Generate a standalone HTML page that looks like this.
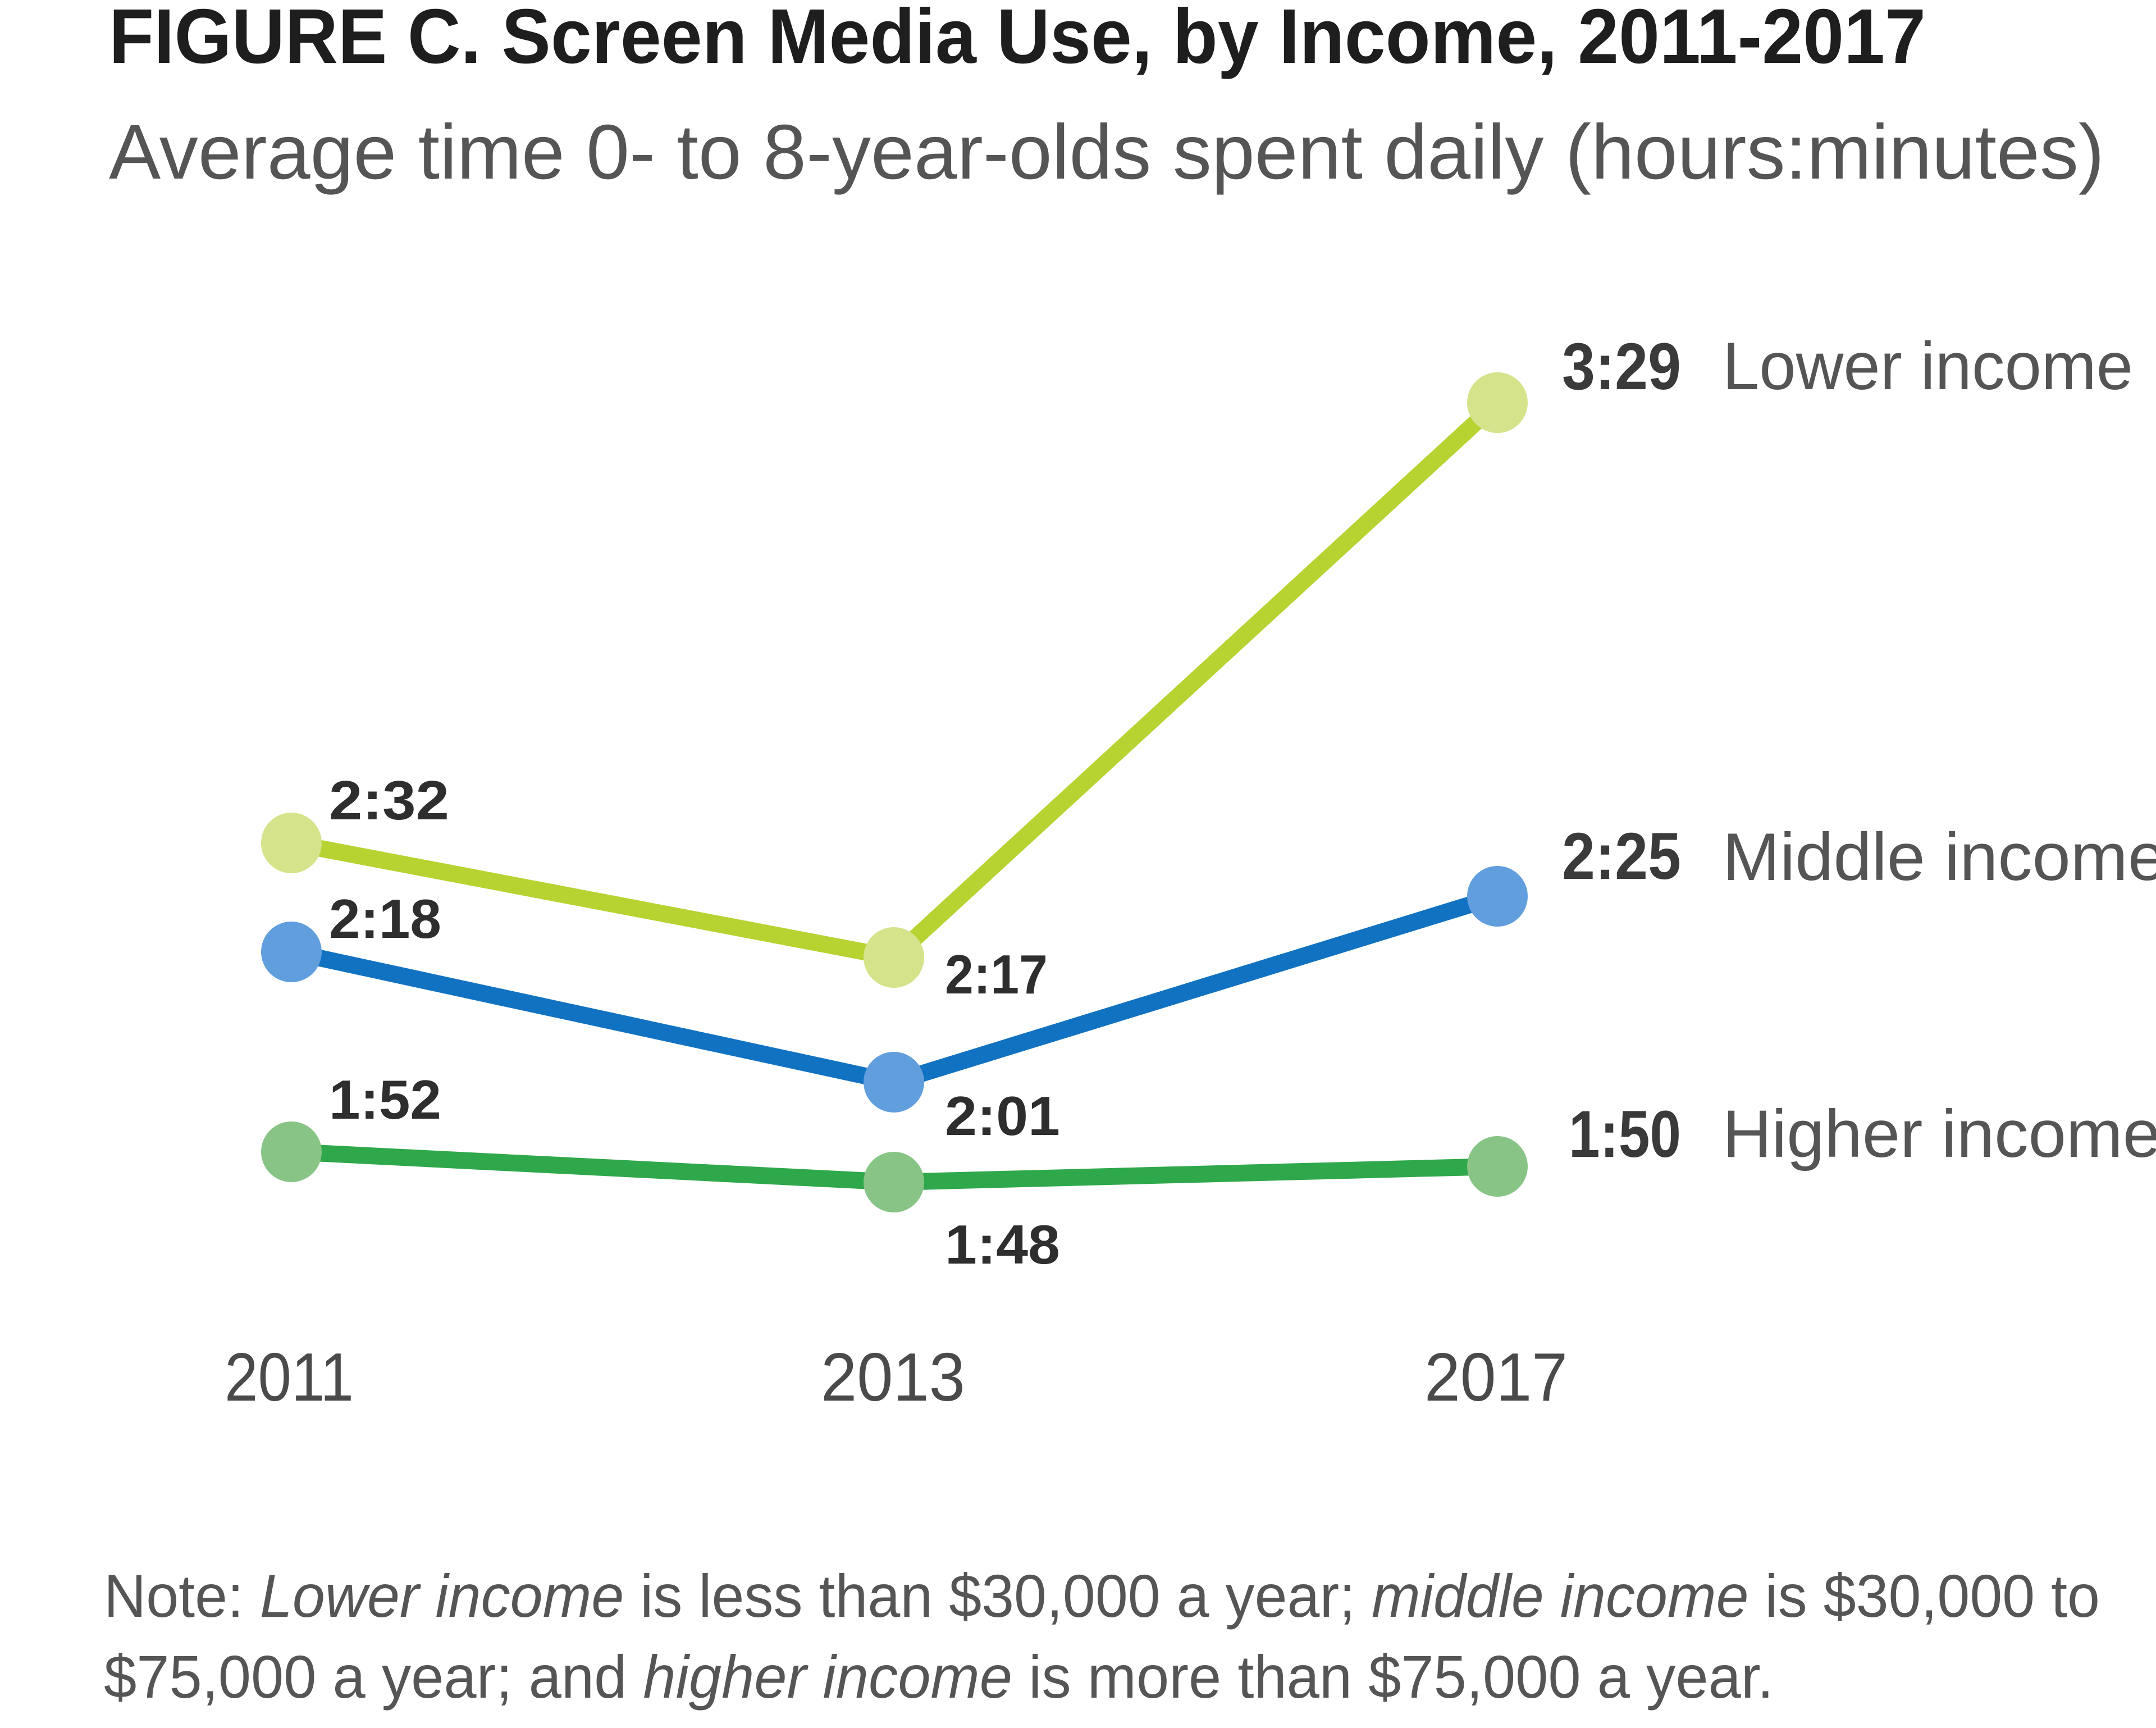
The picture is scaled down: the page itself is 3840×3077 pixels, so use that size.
<!DOCTYPE html>
<html>
<head>
<meta charset="utf-8">
<style>
html,body{margin:0;padding:0;background:#fff;}
body{width:3840px;height:3077px;overflow:hidden;}
svg{display:block;}
</style>
</head>
<body>
<svg width="3840" height="3077" viewBox="0 0 3840 3077" xmlns="http://www.w3.org/2000/svg">
<rect width="3840" height="3077" fill="#fff"/>
<!-- Title -->
<text x="194" y="112" font-family="Liberation Sans, sans-serif" font-weight="bold" font-size="138" fill="#1e1e1e" textLength="3236" lengthAdjust="spacingAndGlyphs">FIGURE C. Screen Media Use, by Income, 2011-2017</text>
<text x="194" y="318" font-family="Liberation Sans, sans-serif" font-size="138" fill="#555" textLength="3554" lengthAdjust="spacingAndGlyphs">Average time 0- to 8-year-olds spent daily (hours:minutes)</text>

<!-- Lines -->
<g fill="none" stroke-width="30" stroke-linejoin="round" stroke-linecap="round">
<polyline points="519,1501 1592,1705 2667,717" stroke="#b6d332"/>
<polyline points="519,1695 1592,1927 2667,1596" stroke="#1172c1"/>
<polyline points="519,2051 1592,2105 2667,2077" stroke="#2ea84a"/>
</g>
<!-- Markers -->
<g>
<circle cx="519" cy="1501" r="54" fill="#d5e48a"/>
<circle cx="1592" cy="1705" r="54" fill="#d5e48a"/>
<circle cx="2667" cy="717" r="54" fill="#d5e48a"/>
<circle cx="519" cy="1695" r="54" fill="#609ede"/>
<circle cx="1592" cy="1927" r="54" fill="#609ede"/>
<circle cx="2667" cy="1596" r="54" fill="#609ede"/>
<circle cx="519" cy="2051" r="54" fill="#88c486"/>
<circle cx="1592" cy="2105" r="54" fill="#88c486"/>
<circle cx="2667" cy="2077" r="54" fill="#88c486"/>
</g>

<!-- Data labels (left & middle) -->
<g font-family="Liberation Sans, sans-serif" font-weight="bold" font-size="98" fill="#2e2e2e">
<text x="586" y="1459" textLength="214" lengthAdjust="spacingAndGlyphs">2:32</text>
<text x="586" y="1670" textLength="200" lengthAdjust="spacingAndGlyphs">2:18</text>
<text x="586" y="1992" textLength="200" lengthAdjust="spacingAndGlyphs">1:52</text>
<text x="1683" y="1769" textLength="183" lengthAdjust="spacingAndGlyphs">2:17</text>
<text x="1683" y="2021" textLength="205" lengthAdjust="spacingAndGlyphs">2:01</text>
<text x="1683" y="2250" textLength="205" lengthAdjust="spacingAndGlyphs">1:48</text>
</g>
<!-- Right labels -->
<g font-family="Liberation Sans, sans-serif" font-weight="bold" font-size="118" fill="#3a3a3a">
<text x="2782" y="693" textLength="212" lengthAdjust="spacingAndGlyphs">3:29</text>
<text x="2782" y="1565" textLength="212" lengthAdjust="spacingAndGlyphs">2:25</text>
<text x="2794" y="2060" textLength="200" lengthAdjust="spacingAndGlyphs">1:50</text>
</g>
<g font-family="Liberation Sans, sans-serif" font-size="120" fill="#555">
<text x="3068" y="693" textLength="731" lengthAdjust="spacingAndGlyphs">Lower income</text>
<text x="3068" y="1567" textLength="790" lengthAdjust="spacingAndGlyphs">Middle income</text>
<text x="3068" y="2060" textLength="780" lengthAdjust="spacingAndGlyphs">Higher income</text>
</g>

<!-- X axis labels -->
<g font-family="Liberation Sans, sans-serif" font-size="122" fill="#4a4a4a">
<text x="400" y="2494" textLength="230" lengthAdjust="spacingAndGlyphs">2011</text>
<text x="1462" y="2494" textLength="257" lengthAdjust="spacingAndGlyphs">2013</text>
<text x="2537" y="2494" textLength="255" lengthAdjust="spacingAndGlyphs">2017</text>
</g>

<!-- Note -->
<g font-family="Liberation Sans, sans-serif" font-size="108" fill="#555">
<text x="185" y="2879" textLength="3555" lengthAdjust="spacingAndGlyphs">Note: <tspan font-style="italic">Lower income</tspan> is less than $30,000 a year; <tspan font-style="italic">middle income</tspan> is $30,000 to</text>
<text x="185" y="3023" textLength="2974" lengthAdjust="spacingAndGlyphs">$75,000 a year; and <tspan font-style="italic">higher income</tspan> is more than $75,000 a year.</text>
</g>
</svg>
</body>
</html>
